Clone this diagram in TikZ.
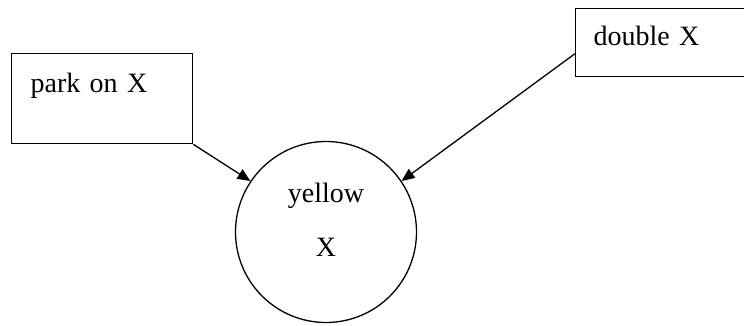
\documentclass[tikz,border=0pt]{standalone}
\usepackage{fontspec}
\setmainfont{Liberation Serif}
\usetikzlibrary{positioning, arrows.meta}

\begin{document}
\begin{tikzpicture}[
  x=1pt, y=1pt,
  cause/.style={draw, line width=1.3pt, anchor=north west, align=left,
                inner ysep=0pt, font=\fontsize{28}{32}\selectfont},
  state/.style={draw, circle, line width=1.3pt, minimum size=181pt, align=center,
                inner sep=0pt, font=\fontsize{28}{32}\selectfont},
  link/.style={line width=1.3pt, -{Triangle[length=13pt, width=11pt]}},
]
  \useasboundingbox (0,0) rectangle (744,325);

  % Causes
  \node[cause, minimum width=181pt, minimum height=90pt, text width=143pt,
        inner xsep=19pt, text height=39pt, text depth=51pt] (park) at (11,272) {park on X};
  \node[cause, minimum width=180pt, minimum height=68pt, text width=144pt,
        inner xsep=18pt, text height=37pt, text depth=31pt] (dbl) at (575,317) {double X};

  % Effect
  \node[state] (yel) at (326,93) {yellow\\[22pt]X\\[-8pt]\mbox{}};

  % Links
  \draw[link] (park.south east) -- (yel.146);
  \draw[link] ([yshift=-11pt]dbl.west) -- (yel.34);
\end{tikzpicture}
\end{document}
